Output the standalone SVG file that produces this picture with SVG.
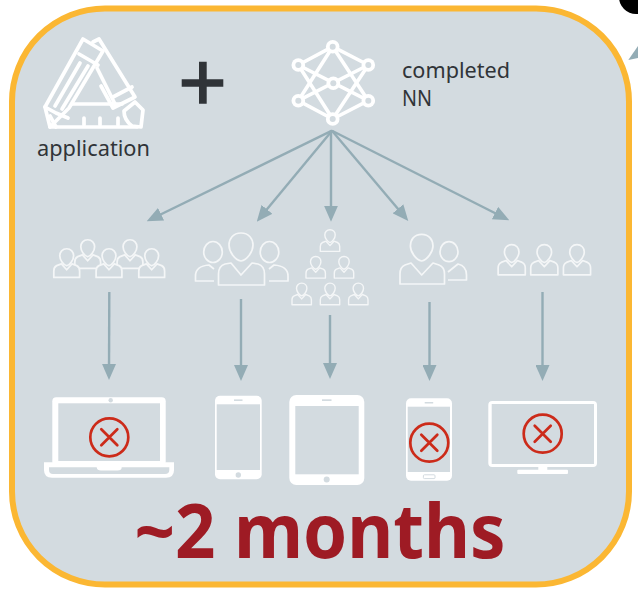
<svg xmlns="http://www.w3.org/2000/svg" xmlns:xlink="http://www.w3.org/1999/xlink" width="638" height="603" viewBox="0 0 638 603">
<style>
.lbl{font-family:"Noto Sans","Liberation Sans",sans-serif;font-size:22px;fill:#303438}
.big{font-family:"Noto Sans","Liberation Sans",sans-serif;font-size:75px;font-weight:700;fill:#9e1b24}
.conn{stroke:#93acb5;stroke-width:2.4;fill:none;marker-end:url(#ah)}
.w{fill:#fff}
.b{fill:#d3dbe0}
.ln{stroke:#fff;fill:none;stroke-linecap:round;stroke-linejoin:round}
.p{stroke:#f4f6f7;fill:#d3dbe0;stroke-linejoin:round}
.x{stroke:#cc2b1a;fill:none;stroke-width:2.7;stroke-linecap:round}
</style>
<defs>
<marker id="ah" markerUnits="userSpaceOnUse" markerWidth="16" markerHeight="14" viewBox="0 0 16 14" refX="12" refY="7" orient="auto"><path d="M0 0L16 7L0 14Z" fill="#93acb5"/></marker>
<g id="person"><path d="M-4 5.2L-7.5 6.5Q-9.7 7.5-9.7 10.5V15.4H9.7V10.5Q9.7 7.5 7.5 6.5L4 5.2L0 9.6Z"/><path d="M0-6.2C3.2-6.2 5.2-3.8 5.2-1C5.2 2 2.5 6 0 6.6C-2.5 6-5.2 2-5.2-1C-5.2-3.8-3.2-6.2 0-6.2Z"/></g>
<g id="xmark"><circle r="19" fill="none"/><path d="M-8-8L8 8M8-8L-8 8"/></g>
<g id="nnode"><circle r="6.8" class="w"/><circle r="3" class="b"/></g>
</defs>
<circle cx="636" cy="-3" r="17" fill="#000"/>
<path d="M628.3 60L638 46V58Z" fill="#93acb5"/>
<rect id="frame" x="12" y="8.5" width="617" height="576" rx="93" ry="93" fill="#d3dbe0" stroke="#fbb733" stroke-width="6"/>

<g id="application">
<g class="ln" stroke-width="3.7">
<path d="M83 39L103 51L69 108L50 127L45 107Z"/>
<path d="M79 54L98 65M80 63L55 106M88 66L62 109M45 107L56 113L68 118M50 116L56 127"/>
<path d="M93 42L99 39L135 97L113 108L101 86"/>
<path d="M113 97L132 87"/>
<path d="M97 68L115 104H72"/>
<path d="M115 104H122M50 127H137"/>
<path d="M84 118V125M100 118V125M118 118V125"/>
<path d="M124 111L135 102L143 110L141 127L132 126Q124 120 124 111Z"/>
</g>
<text class="lbl" x="37" y="156" textLength="113" lengthAdjust="spacingAndGlyphs">application</text>
</g>

<g id="plus"><path d="M181.7 79.3H199V61.7H206.7V79.3H223.3V86.7H206.7V103.7H199V86.7H181.7Z" fill="#303438"/></g>

<g id="nn">
<path class="ln" stroke-width="3.6" d="M332.7 46.7L298.3 65M332.7 46.7L368.3 65M332.7 46.7L298.3 100.7M332.7 46.7L368.3 100.7M332.7 119L298.3 100.7M332.7 119L368.3 100.7M332.7 119L298.3 65M332.7 119L368.3 65M298.3 65L368.3 100.7M368.3 65L298.3 100.7"/>
<use xlink:href="#nnode" href="#nnode" x="332.7" y="46.7"/>
<use xlink:href="#nnode" href="#nnode" x="298.3" y="65"/>
<use xlink:href="#nnode" href="#nnode" x="368.3" y="65"/>
<use xlink:href="#nnode" href="#nnode" x="333.3" y="83.3"/>
<use xlink:href="#nnode" href="#nnode" x="298.3" y="100.7"/>
<use xlink:href="#nnode" href="#nnode" x="368.3" y="100.7"/>
<use xlink:href="#nnode" href="#nnode" x="332.7" y="119"/>
<text class="lbl" x="402" y="77.5" textLength="108" lengthAdjust="spacingAndGlyphs">completed</text>
<text class="lbl" x="402" y="106" textLength="30" lengthAdjust="spacingAndGlyphs">NN</text>
</g>

<g id="connectors">
<path class="conn" d="M332 130.7L150.3 219.5"/>
<path class="conn" d="M332 130.7L259.3 218.6"/>
<path class="conn" d="M331 130.7V217.7"/>
<path class="conn" d="M332 130.7L405.7 217.9"/>
<path class="conn" d="M332 130.7L505.7 218.5"/>
<path class="conn" d="M109.3 292L109 376"/>
<path class="conn" d="M241 299V377"/>
<path class="conn" d="M330 315V375"/>
<path class="conn" d="M429.5 302V377"/>
<path class="conn" d="M542.5 292V377"/>
</g>

<g id="group1" class="p" stroke-width="1.3">
<use xlink:href="#person" href="#person" transform="translate(87.7 248) scale(1.33)"/>
<use xlink:href="#person" href="#person" transform="translate(130 248) scale(1.33)"/>
<use xlink:href="#person" href="#person" transform="translate(66.7 257) scale(1.33)"/>
<use xlink:href="#person" href="#person" transform="translate(109 257) scale(1.33)"/>
<use xlink:href="#person" href="#person" transform="translate(151.7 257) scale(1.33)"/>
</g>

<g id="group2" class="p" stroke-width="1.7">
<path d="M241 233C249 233 253 239 253 245C253 252 247 260 241 261C235 260 229 252 229 245C229 239 233 233 241 233Z"/>
<ellipse cx="213" cy="252" rx="9.3" ry="10.5"/>
<ellipse cx="269.5" cy="252" rx="9.3" ry="10.5"/>
<path d="M214 269L209 265Q195.5 266 195.5 276V281H214" fill="none"/>
<path d="M269 281H288V276Q288 266 274 265L269 269" fill="none"/>
<path d="M231 263L225 264Q218.5 266 218.5 274V285H264.5V274Q264.5 266 258 264L252 263L241 275Z"/>
</g>

<g id="group3" class="p" stroke-width="1.4">
<use xlink:href="#person" href="#person" x="330" y="236"/>
<use xlink:href="#person" href="#person" x="315.7" y="262.7"/>
<use xlink:href="#person" href="#person" x="344" y="262.7"/>
<use xlink:href="#person" href="#person" x="301.7" y="289.3"/>
<use xlink:href="#person" href="#person" x="330" y="289.3"/>
<use xlink:href="#person" href="#person" x="358.3" y="289.3"/>
</g>

<g id="group4" class="p" stroke-width="1.7">
<path d="M421.7 234.3C429 234.3 433 240 433 246C433 252 427 260 421.7 261C416 260 410.4 252 410.4 246C410.4 240 414 234.3 421.7 234.3Z"/>
<ellipse cx="449" cy="251.7" rx="9" ry="10"/>
<path d="M448 280H466.5V275Q466.5 266 458 264L448 272" fill="none"/>
<path d="M411 263L405 265Q400 267 400 274V284H444.5V274Q444.5 267 439 265L433 263L421.7 275Z"/>
</g>

<g id="group5" class="p" stroke-width="1.2">
<use xlink:href="#person" href="#person" transform="translate(511.7 253.3) scale(1.4)"/>
<use xlink:href="#person" href="#person" transform="translate(544.3 253.3) scale(1.4)"/>
<use xlink:href="#person" href="#person" transform="translate(577 253.3) scale(1.4)"/>
</g>

<g id="laptop">
<rect class="w" x="52.3" y="397.3" width="113.4" height="68" rx="4"/>
<rect class="b" x="58.3" y="403.3" width="101.7" height="57.7"/>
<circle class="b" cx="110.7" cy="400.2" r="2.2"/>
<path class="w" d="M44 462.3H174V470Q174 477.7 166 477.7H52Q44 477.7 44 470Z"/>
<path class="b" d="M49 467.3H96.7Q97 470.5 101 470.5H117.5Q121.7 470.5 121.7 467.3H169.3V470Q169.3 474 165 474H53Q49 474 49 470Z"/>
<g class="x"><use xlink:href="#xmark" href="#xmark" x="109.3" y="437.3"/></g>
</g>

<g id="phone1">
<rect class="w" x="215" y="395.7" width="46.7" height="83.6" rx="5"/>
<rect class="b" x="216.7" y="404.3" width="43.3" height="65.7"/>
<rect class="b" x="234" y="399.4" width="8.5" height="1.6"/>
<circle class="b" cx="238.3" cy="475" r="2.7"/>
</g>

<g id="tablet">
<rect class="w" x="289.3" y="395" width="75" height="90" rx="7"/>
<rect class="b" x="295.3" y="406" width="63.4" height="68.3"/>
<rect class="b" x="322" y="399.3" width="9.5" height="1.7"/>
<circle class="b" cx="326.7" cy="479.5" r="3"/>
</g>

<g id="phone2">
<rect class="w" x="406" y="398.3" width="46" height="82.4" rx="5"/>
<rect class="b" x="407.7" y="406.7" width="42.3" height="65.3"/>
<rect class="b" x="424.7" y="402" width="8.5" height="1.5"/>
<rect x="423.4" y="474.8" width="11.6" height="3.8" rx="1" fill="#fff" stroke="#d3dbe0" stroke-width="1"/>
<g class="x"><use xlink:href="#xmark" href="#xmark" x="429.3" y="442.7"/></g>
</g>

<g id="monitor">
<rect class="w" x="488.3" y="401" width="108.7" height="66" rx="4"/>
<rect class="b" x="491.7" y="404" width="102.3" height="60"/>
<rect class="w" x="538.3" y="466" width="9" height="5"/>
<rect class="w" x="517.3" y="469.7" width="50.7" height="4.3" rx="1"/>
<g class="x"><use xlink:href="#xmark" href="#xmark" x="542.7" y="433.7"/></g>
</g>

<text id="duration" class="big" x="134.5" y="557.7" textLength="371" lengthAdjust="spacingAndGlyphs">~2 months</text>
</svg>
